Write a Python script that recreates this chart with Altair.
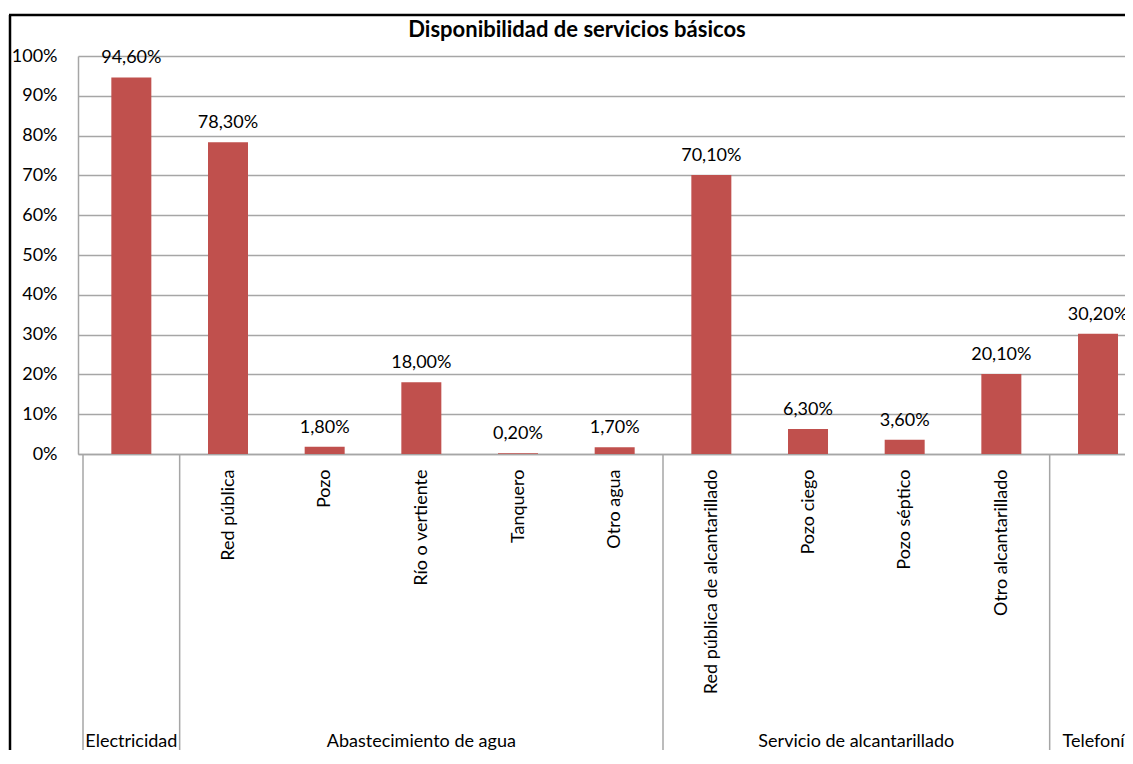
import altair as alt
import pandas as pd

# ---- data ----
group_names = ["Electricidad", "Abastecimiento de agua", "Servicio de alcantarillado", "Telefonía"]
group_sizes = [1, 5, 4, 1]
sub_labels = ["", "Red pública", "Pozo", "Río o vertiente", "Tanquero", "Otro agua",
              "Red pública de alcantarillado", "Pozo ciego", "Pozo séptico",
              "Otro alcantarillado", ""]
values = [94.6, 78.3, 1.8, 18.0, 0.2, 1.7, 70.1, 6.3, 3.6, 20.1, 30.2]
y_ticks = [0, 10, 20, 30, 40, 50, 60, 70, 80, 90, 100]
title_text = "Disponibilidad de servicios básicos"

FONT = "Lato"
BAR = "#C0504D"
GRID = "#A6A6A6"
n = len(values)

STEP = 97.6            # px per category in the reference
PLOT_W = 1047          # visible part of the plot (the reference is cropped on the right)
PLOT_H = 398

bars_df = pd.DataFrame({
    "pos": [i + 0.5 for i in range(n)],
    "value": values,
    "label": [f"{v:.2f}".replace(".", ",") + "%" for v in values],
})

starts = []
s = 0
for g in group_sizes:
    starts.append(s)
    s += g
groups_df = pd.DataFrame({
    "group": group_names,
    "center": [st + sz / 2 for st, sz in zip(starts, group_sizes)],
})
sep_df = pd.DataFrame({"edge": starts})

xscale = alt.Scale(domain=[0, PLOT_W / STEP], nice=False, zero=False)
label_array = "[" + ",".join("'" + t + "'" for t in sub_labels) + "]"

x_axis = alt.Axis(
    values=[i + 0.5 for i in range(n)], tickCount=n,
    labelExpr=label_array + "[floor(datum.value)]",
    labelAngle=270, labelAlign="right", labelBaseline="middle",
    labelPadding=15, labelFontSize=18, labelFont=FONT, labelColor="#000000",
    labelOverlap=False, labelBound=False, labelFlush=False, labelLimit=0,
    ticks=False, grid=False, domainColor=GRID, domainWidth=1.5, title=None,
)
y_axis = alt.Axis(
    values=y_ticks, tickCount=len(y_ticks), labelExpr="datum.value + '%'",
    labelFontSize=18, labelFont=FONT, labelColor="#000000", labelPadding=21,
    labelOverlap=False,
    ticks=False, grid=True, gridColor=GRID, gridWidth=1.5,
    domainColor=GRID, domainWidth=1.5, title=None,
)

base = alt.Chart(bars_df)
bars = base.mark_bar(size=40, color=BAR, clip=True).encode(
    x=alt.X("pos:Q", scale=xscale, axis=x_axis),
    y=alt.Y("value:Q", scale=alt.Scale(domain=[0, 100], nice=False), axis=y_axis),
)
labels = base.mark_text(fontSize=18, font=FONT, color="#000000", baseline="middle", dy=-19).encode(
    x=alt.X("pos:Q", scale=xscale),
    y=alt.Y("value:Q"),
    text="label:N",
)
seps = alt.Chart(sep_df).mark_rule(color=GRID, strokeWidth=1.5).encode(
    x=alt.X("edge:Q", scale=xscale),
    y=alt.value(PLOT_H), y2=alt.value(740),
)
group_text = alt.Chart(groups_df).mark_text(fontSize=18, font=FONT, color="#000000", baseline="middle").encode(
    x=alt.X("center:Q", scale=xscale),
    y=alt.value(686),
    text="group:N",
)
title = alt.Chart(pd.DataFrame({"t": [title_text]})).mark_text(
    fontSize=22, font=FONT, fontWeight="bold", color="#000000", baseline="middle"
).encode(x=alt.value(499), y=alt.value(-26), text="t:N")
border_left = alt.Chart(pd.DataFrame({"a": [0]})).mark_rule(color="#000000", strokeWidth=2.5).encode(
    x=alt.value(-68), y=alt.value(-41), y2=alt.value(740))
border_top = alt.Chart(pd.DataFrame({"a": [0]})).mark_rule(color="#000000", strokeWidth=2.5).encode(
    x=alt.value(-69), x2=alt.value(1100), y=alt.value(-41))

chart = alt.layer(seps, bars, labels, group_text, title, border_left, border_top).properties(
    width=PLOT_W, height=PLOT_H,
    autosize=alt.AutoSizeParams(type="none"),
    padding={"left": 70, "top": 48, "right": 0, "bottom": 296},
    background="white",
).configure_view(stroke=None)

chart.save("out.html", embed_options={"renderer": "svg", "actions": False})
